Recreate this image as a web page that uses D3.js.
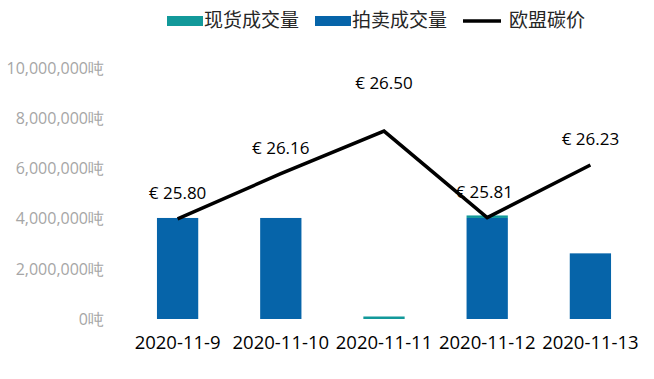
<!DOCTYPE html>
<html>
<head>
<meta charset="utf-8">
<script src="https://cdn.jsdelivr.net/npm/d3@7"></script>
<style>
  html, body { margin: 0; padding: 0; background: #ffffff; }
  svg { display: block; }
</style>
</head>
<body>
<svg id="chart" width="654" height="379"></svg>
<script>
const categories = ["2020-11-9", "2020-11-10", "2020-11-11", "2020-11-12", "2020-11-13"];
const spotVolume = [0, 0, 100000, 100000, 0];
const auctionVolume = [4033500, 4033500, 0, 4033500, 2620500];
const euaPrice = [25.80, 26.16, 26.50, 25.81, 26.23];
const yTicks = [0, 2000000, 4000000, 6000000, 8000000, 10000000];
const seriesNames = ["现货成交量", "拍卖成交量", "欧盟碳价"];

const colors = { spot: "#12999a", auction: "#0664a9", line: "#000000" };
const numFont = "'Open Sans', 'Noto Sans', sans-serif";
const cjkFont = "'Noto Sans CJK SC', sans-serif";

const svg = d3.select("#chart");

const x = d3.scaleBand().domain(categories).range([126, 642]).paddingInner(0.6).paddingOuter(0.3);
const y = d3.scaleLinear().domain([0, 10000000]).range([319, 68.5]);
const y2 = d3.scaleLinear().domain([25, 27]).range([319, 68.5]);

// y axis labels
const fmt = d3.format(",");
const yAxis = d3.axisLeft(y).tickValues(yTicks).tickSize(0).tickPadding(0)
  .tickFormat(d => fmt(d) + "吨");
const gy = svg.append("g").attr("transform", "translate(104,0)").call(yAxis);
gy.select(".domain").remove();
gy.selectAll("text").attr("fill", "#a6a6a6").style("font-family", numFont).style("font-size", "16px");

// x axis labels
const xAxis = d3.axisBottom(x).tickSize(0).tickPadding(0);
const gx = svg.append("g").attr("transform", "translate(0,336)").call(xAxis);
gx.select(".domain").remove();
gx.selectAll("text").attr("fill", "#000").style("font-family", numFont).style("font-size", "18.5px");

// stacked bars
const rows = categories.map((c, i) => ({ cat: c, auction: auctionVolume[i], spot: spotVolume[i] }));
const stack = d3.stack().keys(["auction", "spot"])(rows);
const barColor = { auction: colors.auction, spot: colors.spot };
svg.append("g").selectAll("g").data(stack).join("g")
  .attr("fill", d => barColor[d.key])
  .selectAll("rect").data(d => d).join("rect")
  .attr("x", d => x(d.data.cat))
  .attr("width", x.bandwidth())
  .attr("y", d => y(d[1]))
  .attr("height", d => y(d[0]) - y(d[1]));

// price line
const line = d3.line().x((d, i) => x(categories[i]) + x.bandwidth() / 2).y(d => y2(d));
svg.append("path").datum(euaPrice).attr("d", line)
  .attr("fill", "none").attr("stroke", colors.line).attr("stroke-width", 3.5).attr("stroke-linejoin", "miter");

// price labels
const maxIdx = euaPrice.indexOf(d3.max(euaPrice));
svg.append("g").selectAll("text").data(euaPrice).join("text")
  .attr("x", (d, i) => x(categories[i]) + x.bandwidth() / 2 - (i === 3 ? 3 : 0))
  .attr("y", (d, i) => y2(d) - (i === maxIdx ? 42 : 20))
  .attr("text-anchor", "middle")
  .style("font-family", numFont).style("font-size", "17px").attr("fill", "#000")
  .text(d => "€ " + d.toFixed(2));

// legend
const lg = svg.append("g");
const legendItems = [
  { name: seriesNames[0], type: "rect", color: colors.spot, x: 167, tx: 204 },
  { name: seriesNames[1], type: "rect", color: colors.auction, x: 315, tx: 352 },
  { name: seriesNames[2], type: "line", color: colors.line, x: 463, tx: 509 }
];
legendItems.forEach(it => {
  if (it.type === "rect") {
    lg.append("rect").attr("x", it.x).attr("y", 16).attr("width", 36).attr("height", 10).attr("fill", it.color);
  } else {
    lg.append("line").attr("x1", it.x).attr("x2", it.x + 38).attr("y1", 21).attr("y2", 21)
      .attr("stroke", it.color).attr("stroke-width", 3.5);
  }
  lg.append("text").attr("x", it.tx).attr("y", 27).text(it.name)
    .style("font-family", cjkFont).style("font-size", "19px").attr("fill", "#262626");
});
</script>
</body>
</html>
